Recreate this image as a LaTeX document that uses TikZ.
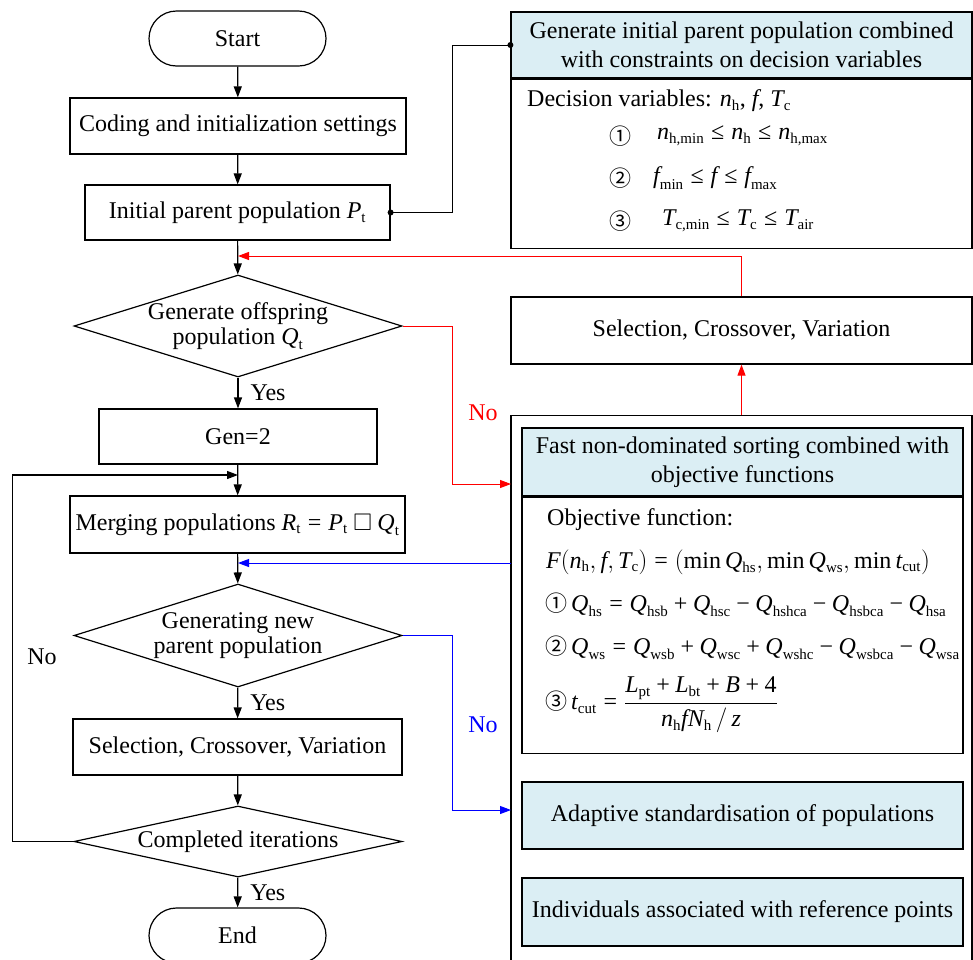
\documentclass[tikz,border=0pt]{standalone}
\usepackage{amsmath,amssymb}
\usepackage{fontspec}
\setmainfont{Liberation Serif}
\newfontfamily\cjkfont{Noto Sans CJK SC}
\usetikzlibrary{shapes.geometric,shapes.misc,arrows.meta,calc}
\definecolor{hdr}{RGB}{219,238,244}
\newcommand\iv[1]{\text{\itshape #1}}
\newcommand\V[2]{\iv{#1}_{\mbox{\fontsize{15}{15}\selectfont #2}}}
\newcommand\tp{\mathbin{\text{+}}}
\newcommand\tm{\mathbin{\text{−}}}
\newcommand\teq{\mathrel{\text{=}}}
\newcommand\tle{\mathrel{\text{≤}}}
\newcommand\cn[1]{{\cjkfont\fontsize{22}{22}\selectfont #1}}
\begin{document}
\begin{tikzpicture}[x=1pt,y=-1pt,
 every node/.style={font=\fontsize{24}{29}\selectfont},
 box/.style={draw, line width=1.2pt, inner sep=0pt, align=center},
 hbox/.style={box, fill=hdr},
 term/.style={draw, line width=1.2pt, rounded rectangle, minimum width=177pt, minimum height=55pt, inner sep=0pt},
 dec/.style={draw, line width=1.2pt, diamond, inner sep=0pt},
 dtext/.style={align=center, inner sep=0pt, font=\fontsize{24}{25}\selectfont},
 arr/.style={line width=1.2pt, -{Triangle[length=11pt,width=8pt]}},
 carr/.style={line width=1pt, -{Triangle[length=11pt,width=8pt]}},
 lbl/.style={inner sep=0pt, anchor=west},
 yes/.style={inner sep=0pt, anchor=west, xshift=12pt},
]
\useasboundingbox (0,0) rectangle (973,959);
\clip (0,0) rectangle (973,959);

% left column
\node[term] (start) at (237.5,38.5) {Start};
\node[box, minimum width=336pt, minimum height=56pt] (coding) at (238,126) {Coding and initialization settings};
\node[box, minimum width=305pt, minimum height=55pt] (init) at (237.5,212.5) {Initial parent population $\V{P}{t}$};
\node[dec, minimum width=328pt, minimum height=102pt] (d1) at (238,326) {};
\node[dtext] (d1t) at (d1) {Generate offspring\\population $\V{Q}{t}$};
\node[box, minimum width=278pt, minimum height=55pt] (gen) at (238,436.5) {Gen=2};
\node[box, minimum width=335pt, minimum height=57pt] (merge) at (237.5,524.5) {Merging populations $\V{R}{t} \teq \V{P}{t} \mathbin{\square} \V{Q}{t}$};
\node[dec, minimum width=328pt, minimum height=103pt] (d2) at (238,635.5) {};
\node[dtext] (d2t) at (d2) {Generating new\\parent population};
\node[box, minimum width=329pt, minimum height=56pt] (sel) at (237.5,747) {Selection, Crossover, Variation};
\node[dec, minimum width=328pt, minimum height=71pt] (d3) at (238,841.5) {};
\node[dtext] (d3t) at (d3) {Completed iterations};
\node[term] (end) at (237.5,935.5) {End};

% right column
\node[hbox, minimum width=461pt, minimum height=66pt] (tophead) at (741.5,45) {Generate initial parent population combined\\with constraints on decision variables};
\node[box, minimum width=461pt, minimum height=169pt, anchor=north] (topbody) at (tophead.south) {};
\node[lbl] (dv) at (527,101) {Decision variables: $\V{n}{h}$, \iv{f}, $\V{T}{c}$};
\node[lbl] (c1) at (609,136) {\cn{①}};
\node[lbl] (f1) at (657,136) {$\V{n}{h,min} \tle \V{n}{h} \tle \V{n}{h,max}$};
\node[lbl] (c2) at (609,178) {\cn{②}};
\node[lbl] (f2) at (653,178) {$\V{f}{min} \tle \iv{f} \tle \V{f}{max}$};
\node[lbl] (c3) at (609,221) {\cn{③}};
\node[lbl] (f3) at (662,221) {$\V{T}{c,min} \tle \V{T}{c} \tle \V{T}{air}$};

\node[box, minimum width=461pt, minimum height=67pt] (selR) at (741.5,330.5) {Selection, Crossover, Variation};
\node[box, minimum width=461pt, minimum height=560pt, anchor=north] (outer) at (741.5,415) {};
\node[hbox, minimum width=441pt, minimum height=68pt] (fasth) at (742.5,462) {Fast non-dominated sorting combined with\\objective functions};
\node[box, minimum width=441pt, minimum height=256pt, anchor=north] (fastb) at (fasth.south) {};
\node[lbl] (of) at (547,520) {Objective function:};
\node[lbl] (F) at (546,562) {$\iv{F}(\V{n}{h}, \iv{f}, \V{T}{c}) \teq (\text{min}\,\V{Q}{hs}, \text{min}\,\V{Q}{ws}, \text{min}\,\V{t}{cut})$};
\node[lbl] (o1) at (545,605) {\cn{①}\,$\V{Q}{hs} \teq \V{Q}{hsb} \tp \V{Q}{hsc} \tm \V{Q}{hshca} \tm \V{Q}{hsbca} \tm \V{Q}{hsa}$};
\node[lbl] (o2) at (545,648) {\cn{②}\,$\V{Q}{ws} \teq \V{Q}{wsb} \tp \V{Q}{wsc} \tp \V{Q}{wshc} \tm \V{Q}{wsbca} \tm \V{Q}{wsa}$};
\node[lbl] (o3) at (545,705) {\cn{③}\,$\V{t}{cut} \teq \dfrac{\V{L}{pt} \tp \V{L}{bt} \tp \iv{B} \tp \text{4}}{\V{n}{h}\iv{f}\V{N}{h} \,/\, \iv{z}}$};
\node[hbox, minimum width=441pt, minimum height=67pt] (adapt) at (742.5,815.5) {Adaptive standardisation of populations};
\node[hbox, minimum width=441pt, minimum height=68pt] (indiv) at (742.5,912) {Individuals associated with reference points};

% main flow
\draw[arr] (start) -- (coding);
\draw[arr] (coding) -- (init);
\draw[arr] (init) -- (d1);
\draw[arr] (d1) -- node[yes] (yes1) {Yes} (gen);
\draw[arr] (gen) -- (merge);
\draw[arr] (merge) -- (d2);
\draw[arr] (d2) -- node[yes] (yes2) {Yes} (sel);
\draw[arr] (sel) -- (d3);
\draw[arr] (d3) -- node[yes] (yes3) {Yes} (end);
\coordinate (lj) at (238,475);
\draw[arr] (d3.west) -- ++(-61,0) |- (lj);
\node (no1) at (42,657) {No};

% link to top box
\draw[line width=1pt] (init.east) -- ++(62,0) |- (tophead.west);
\fill (init.east) circle (3pt);
\fill (tophead.west) circle (3pt);

% red
\coordinate (rin) at (511,484);
\draw[carr, red] (d1.east) -- ++(50,0) |- (rin);
\node[red] (no2) at (483,413) {No};
\draw[carr, red] (outer.north) -- (selR.south);
\coordinate (rj) at (238,256);
\draw[carr, red] (selR.north) |- (rj);

% blue
\coordinate (bo) at (511,563);
\coordinate (bj) at (238,563);
\draw[carr, blue] (bo) -- (bj);
\coordinate (bin) at (511,810);
\draw[carr, blue] (d2.east) -- ++(50,0) |- (bin);
\node[blue] (no3) at (483,725) {No};
\end{tikzpicture}
\end{document}
